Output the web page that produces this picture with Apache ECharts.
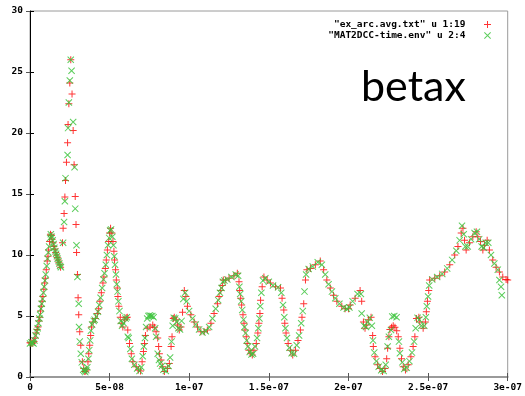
<!DOCTYPE html>
<html>
<head>
<meta charset="utf-8">
<script src="https://cdn.jsdelivr.net/npm/echarts@6/dist/echarts.min.js"></script>
<style>
  html, body { margin: 0; padding: 0; background: #fff; }
  #chart { width: 525px; height: 396px; }
</style>
</head>
<body>
<div id="chart"></div>
<script>
// Time axis is stored in nanoseconds; tick labels show seconds.
const xTickLabels = ['0', '5e-08', '1e-07', '1.5e-07', '2e-07', '2.5e-07', '3e-07'];
const yTickValues = [0, 5, 10, 15, 20, 25, 30];

const seriesNames = ['"ex_arc.avg.txt" u 1:19', '"MAT2DCC-time.env" u 2:4'];

// betax from ex_arc.avg.txt (column 1 vs 19)
const arcPoints = [
  [0,2.8],[0.6,2.8],[1.2,2.75],[1.9,2.8],[2.5,2.9],[3.2,3.2],[3.9,3.6],[4.5,3.9],[5.0,4.1],[5.6,4.6],
  [6.1,4.9],[6.6,5.4],[7.1,5.8],[7.6,6.2],[8.1,6.6],[8.7,7.2],[9.2,7.7],[9.6,8.1],[10.2,8.8],[10.8,9.5],
  [11.3,9.9],[11.7,10.4],[12.3,11.1],[12.9,11.7],[13.4,11.6],[13.9,11.3],[14.5,11.0],[15.0,10.7],[15.6,10.5],[16.1,10.2],
  [16.7,10.0],[17.1,9.8],[17.7,9.6],[18.1,9.4],[18.7,9.2],[19.2,9.0],
  [20.4,11.0],[20.8,12.2],[21.4,13.4],[21.9,14.75],[22.3,16.1],[22.9,17.6],[23.6,19.2],[23.9,20.7],[24.4,22.4],[25.0,24.1],
  [25.6,26.0],[26.4,23.2],[27.1,20.2],[27.7,17.4],[28.4,14.8],[28.9,12.5],[29.25,10.2],[29.8,8.4],[30.2,6.5],[30.6,5.1],
  [31.25,3.7],[31.9,2.6],[32.9,1.25],[33.75,0.7],[34.4,0.45],[35.0,0.5],[35.6,0.6],
  [36.4,1.25],[36.9,1.9],[37.5,2.6],[38.1,3.4],[38.6,4.1],[39.6,4.5],[41.1,4.8],[42.3,5.2],[43.1,5.6],[43.9,6.2],
  [44.8,6.9],[45.8,7.7],[46.4,8.2],[47.3,8.9],[47.9,9.6],[48.6,10.4],[49.4,11.1],[50.0,11.8],[50.6,12.2],[51.4,11.8],
  [52.1,11.1],[52.7,10.3],[53.1,9.6],[53.75,8.8],[54.2,7.95],[54.8,7.3],[55.2,6.6],[55.8,5.8],[56.7,4.9],[57.3,4.4],
  [58.3,4.1],[59.4,4.7],[60.4,4.86],[61.1,4.9],[61.4,3.85],[62.5,2.75],[63.6,1.9],[64.6,1.25],[66.7,0.85],[68.1,0.57],
  [69.4,0.5],[70.4,1.25],[71.25,2.1],[71.9,2.75],[72.5,3.4],[73.6,4.0],[75.4,4.1],[77.1,4.26],[78.1,4.07],[79.2,3.7],
  [80.2,3.2],[80.8,2.5],[81.25,1.9],[82.3,1.4],[83.3,0.85],[84.4,0.45],[86.4,0.7],[87.5,1.1],[88.6,2.5],[89.2,3.3],
  [90.0,4.8],[90.6,4.9],[91.7,4.7],[92.7,4.26],[93.75,3.85],[94.8,4.1],[95.8,5.3],[96.9,7.1],[97.9,6.6],[98.9,5.8],
  [101.0,5.1],[103.1,4.5],[105.2,4.1],[107.3,3.7],[109.4,3.7],[111.4,3.85],[113.6,4.4],[115.6,5.2],[117.7,6.0],[118.75,6.6],
  [119.8,7.1],[120.8,7.5],[121.4,7.95],[122.9,7.95],[125.0,8.1],[128.1,8.3],[130.2,8.5],[131.25,7.8],[131.7,7.1],[132.3,6.45],
  [132.9,5.9],[133.75,5.1],[134.4,4.4],[135.0,3.85],[135.8,3.3],[136.4,2.75],[137.5,2.2],[138.6,1.95],[139.6,1.8],[140.6,2.2],
  [142.1,2.75],[143.1,3.6],[143.75,4.4],[144.4,5.2],[144.8,6.3],[145.8,7.4],[146.9,8.2],[148.9,7.95],[151.0,7.7],[154.2,7.4],
  [157.3,7.3],[158.3,6.45],[159.4,5.5],[160.0,4.4],[160.8,3.6],[162.1,2.75],[163.6,2.2],[165.0,1.8],[166.7,2.2],[168.3,3.0],
  [169.8,3.85],[170.8,4.9],[171.9,6.0],[173.0,7.95],[173.9,8.8],[176.1,8.9],[179.2,9.2],[182.3,9.5],[184.4,8.8],[186.4,7.95],
  [188.6,7.3],[190.6,6.7],[192.7,6.2],[195.8,5.8],[197.9,5.6],[200.0,5.6],[201.1,5.9],[204.2,6.45],[207.3,7.1],[208.3,6.2],
  [209.4,4.5],[210.4,4.0],[211.4,4.26],[212.5,4.7],[214.2,4.9],[215.2,3.4],[215.6,2.5],[216.7,1.65],[218.3,1.0],[219.8,0.7],
  [221.4,0.45],[222.9,0.7],[224.0,1.5],[224.6,2.35],[225.4,3.3],[226.0,3.9],[227.1,4.07],[228.1,4.2],[229.2,4.07],[230.3,3.8],
  [231.25,3.3],[232.3,2.35],[233.3,1.5],[234.4,0.85],[235.8,0.57],[237.5,1.0],[239.2,1.65],[240.6,2.5],[241.7,3.3],[242.7,4.8],
  [244.2,4.9],[244.8,4.5],[246.9,4.0],[248.3,4.5],[248.9,5.35],[249.6,6.2],[250.4,7.1],[251.0,7.95],[254.2,8.1],[257.3,8.3],
  [260.4,8.6],[263.6,9.2],[266.7,10.0],[268.75,10.7],[270.8,11.8],[271.9,12.2],[272.9,11.2],[273.9,10.4],[276.0,11.0],[278.1,11.5],
  [280.2,11.9],[281.25,11.5],[282.9,11.1],[284.4,10.4],[285.4,10.8],[287.1,11.2],[288.5,10.4],[290.6,9.6],[292.7,9.0],[294.8,8.6],
  [296.9,8.2],[299.0,8.0],[300.0,7.95]
];

// betax envelope from MAT2DCC-time.env (column 2 vs 4)
const envPoints = [
  [0,2.75],[0.9,2.85],[1.6,2.8],[2.2,2.75],[2.8,3.0],[3.5,3.4],[4.2,3.7],[4.8,4.0],[5.3,4.4],[5.9,4.8],
  [6.4,5.1],[6.9,5.6],[7.4,6.0],[7.9,6.4],[8.4,6.9],[8.9,7.4],[9.4,7.9],[9.9,8.4],[10.5,9.1],[11.0,9.7],
  [11.5,10.2],[12.0,10.7],[12.6,11.4],[13.1,11.7],[13.6,11.5],[14.2,11.2],[14.8,10.9],[15.3,10.6],[15.9,10.3],[16.4,10.1],
  [16.9,9.9],[17.4,9.7],[17.9,9.5],[18.4,9.3],[18.9,9.1],[19.4,9.0],
  [20.8,11.0],[21.4,12.7],[21.9,14.4],[22.3,16.3],[23.6,18.2],[23.9,20.4],[24.4,22.5],[25.0,24.3],[25.6,26.0],[26.1,25.1],
  [27.1,20.9],[28.0,17.2],[28.4,13.8],[29.2,10.8],[29.8,8.2],[30.6,6.0],[30.8,4.1],[31.25,2.9],[31.9,1.9],[32.5,1.2],
  [33.4,0.6],[34.1,0.5],[34.7,0.4],[35.3,0.55],[36.0,0.8],
  [36.7,1.5],[37.2,2.2],[37.8,3.0],[38.3,3.8],[39.0,4.3],[40.0,4.6],[40.6,4.7],[41.6,4.95],[42.7,5.35],[43.5,5.9],
  [44.3,6.5],[45.3,7.3],[46.1,8.0],[46.8,8.5],[47.6,9.2],[48.3,10.0],[49.0,10.8],[49.7,11.4],[50.3,12.0],[50.9,12.1],
  [51.7,11.5],[52.4,10.8],[52.9,9.9],[53.4,9.2],[54.0,8.4],[54.5,7.6],[55.0,7.0],[55.5,6.2],[56.2,5.4],[57.0,4.6],
  [57.8,4.2],[58.8,4.4],[60.0,4.8],[60.8,4.9],[61.4,3.3],[62.0,3.2],[63.0,2.3],[64.0,1.5],[65.5,1.0],[67.3,0.7],
  [68.8,0.5],[69.9,0.8],[70.8,1.7],[71.5,2.5],[72.2,3.2],[72.9,4.1],[73.6,4.8],[74.4,5.0],[75.2,5.05],[76.0,5.0],
  [76.8,5.0],[77.6,4.9],[78.6,4.0],[79.2,3.3],[80.2,1.9],[81.0,1.4],[81.7,1.1],[82.8,0.9],[83.8,0.6],[85.3,0.5],
  [87.0,0.9],[88.0,1.6],[88.9,2.9],[89.6,4.2],[90.3,4.85],[91.2,4.8],[92.2,4.5],[93.2,4.0],[94.2,3.9],[95.2,4.6],
  [96.3,6.4],[97.4,6.9],[98.4,6.2],[99.9,5.4],[102.0,4.8],[104.1,4.3],[106.2,3.9],[108.3,3.65],[110.4,3.75],[112.5,4.1],
  [114.6,4.8],[116.6,5.6],[118.2,6.3],[119.3,6.9],[120.3,7.3],[121.1,7.8],[122.1,7.9],[123.9,8.0],[126.5,8.2],[129.2,8.4],
  [130.7,8.3],[131.5,7.4],[132.0,6.8],[132.6,6.2],[133.3,5.5],[134.1,4.7],[134.7,4.1],[135.4,3.6],[136.1,3.0],[136.9,2.5],
  [138.0,2.05],[139.1,1.85],[140.1,1.9],[141.3,2.5],[142.6,3.2],[143.4,4.0],[144.1,4.8],[144.6,5.8],[145.3,6.9],[146.3,7.9],
  [147.8,8.1],[150.0,7.8],[152.6,7.5],[155.8,7.35],[157.8,6.9],[158.9,5.9],[159.7,4.9],[160.4,4.0],[161.4,3.2],[162.9,2.4],
  [164.3,1.95],[165.8,1.9],[167.5,2.6],[169.0,3.4],[170.3,4.4],[171.3,5.4],[172.4,7.0],[173.4,8.4],[175.0,8.85],[177.6,9.05],
  [180.7,9.4],[183.3,9.2],[185.4,8.4],[187.5,7.6],[189.6,7.0],[191.7,6.45],[194.3,6.0],[196.9,5.7],[199.0,5.6],[200.6,5.7],
  [202.6,6.2],[205.7,6.8],[207.8,6.8],[208.3,5.2],[209.9,4.2],[211.0,4.1],[212.0,4.5],[213.4,4.85],[214.7,4.2],[215.4,3.0],
  [216.2,2.0],[217.5,1.3],[219.0,0.85],[220.6,0.55],[222.1,0.5],[223.4,1.0],[224.6,2.5],[225.4,3.3],[226.7,3.85],[227.5,4.95],
  [228.75,5.0],[230.2,4.9],[231.7,2.9],[232.3,1.95],[233.8,1.2],[235.0,0.65],[236.6,0.75],[238.3,1.3],[239.9,2.0],[241.2,2.9],
  [242.2,4.0],[243.4,4.85],[244.5,4.7],[245.8,4.2],[247.6,4.2],[248.6,4.9],[249.2,5.8],[250.0,6.6],[250.7,7.5],[252.6,8.0],
  [255.7,8.2],[258.9,8.45],[262.0,8.9],[265.1,9.6],[267.7,10.35],[269.8,11.2],[271.3,12.4],[272.4,11.7],[273.4,10.7],[274.9,10.7],
  [277.0,11.3],[279.2,11.8],[280.7,11.9],[282.1,11.3],[283.6,10.7],[284.9,10.6],[286.2,11.0],[287.8,11.0],[289.5,10.0],[291.6,9.3],
  [293.8,8.8],[294.8,7.95],[295.8,7.4],[296.3,6.7]
];

const PLUS = 'path://M3,0H4V7H3Z M0,3H7V4H0Z';
const CROSS = 'path://M0,0.7L0.7,0L7,6.3L6.3,7Z M6.3,0L7,0.7L0.7,7L0,6.3Z';
const RED = '#ff0000';
const GREEN = '#3ec43e';
const tickFont = { fontFamily: 'DejaVu Sans Mono', fontWeight: 'bold', fontSize: 9.5, color: '#000' };

const chart = echarts.init(document.getElementById('chart'), null, { renderer: 'canvas' });

const hiddenAxis = (extra) => Object.assign({
  type: 'value',
  axisLabel: { show: false },
  axisLine: { show: false },
  splitLine: { show: false },
  axisTick: { show: true, inside: true, length: 4, lineStyle: { color: '#555' } }
}, extra);

chart.setOption({
  animation: false,
  backgroundColor: '#fff',
  grid: {
    left: 30, right: 15, top: 11, bottom: 19,
    show: true, borderColor: '#9a9a9a', borderWidth: 1, backgroundColor: 'transparent'
  },
  legend: {
    orient: 'vertical',
    right: 29,
    top: 14,
    align: 'right',
    itemGap: 0,
    itemWidth: 34,
    itemHeight: 7,
    symbolKeepAspect: true,
    selectedMode: false,
    textStyle: Object.assign({}, tickFont, { lineHeight: 11 }),
    data: [
      { name: seriesNames[0], icon: PLUS, itemStyle: { color: RED } },
      { name: seriesNames[1], icon: CROSS, itemStyle: { color: GREEN } }
    ]
  },
  xAxis: [
    {
      type: 'value', min: 0, max: 300, interval: 50,
      axisLine: { show: true, lineStyle: { color: '#9a9a9a', width: 2 } },
      axisTick: { show: true, inside: true, length: 4, lineStyle: { color: '#555' } },
      splitLine: { show: false },
      axisLabel: {
        margin: 6,
        formatter: (v) => xTickLabels[Math.round(v / 50)],
        ...tickFont
      }
    },
    hiddenAxis({ position: 'top', min: 0, max: 300, interval: 50 })
  ],
  yAxis: [
    {
      type: 'value', min: 0, max: 30, interval: 5,
      axisLine: { show: true, lineStyle: { color: '#000', width: 1 } },
      axisTick: { show: true, inside: true, length: 4, lineStyle: { color: '#000' } },
      splitLine: { show: false },
      axisLabel: {
        margin: 7,
        formatter: (v) => String(yTickValues[Math.round(v / 5)]),
        ...tickFont
      }
    },
    hiddenAxis({ position: 'right', min: 0, max: 30, interval: 5 })
  ],
  graphic: [
    {
      type: 'text',
      left: 361,
      top: 66,
      style: {
        text: 'betax',
        fontFamily: 'Lato',
        fontSize: 43,
        fill: '#000'
      }
    }
  ],
  series: [
    {
      name: seriesNames[0],
      type: 'scatter',
      data: arcPoints,
      symbol: PLUS,
      symbolSize: 7,
      itemStyle: { color: RED },
      z: 2
    },
    {
      name: seriesNames[1],
      type: 'scatter',
      data: envPoints,
      symbol: CROSS,
      symbolSize: 7,
      itemStyle: { color: GREEN, opacity: 0.85 },
      z: 3
    }
  ]
});
</script>
</body>
</html>
